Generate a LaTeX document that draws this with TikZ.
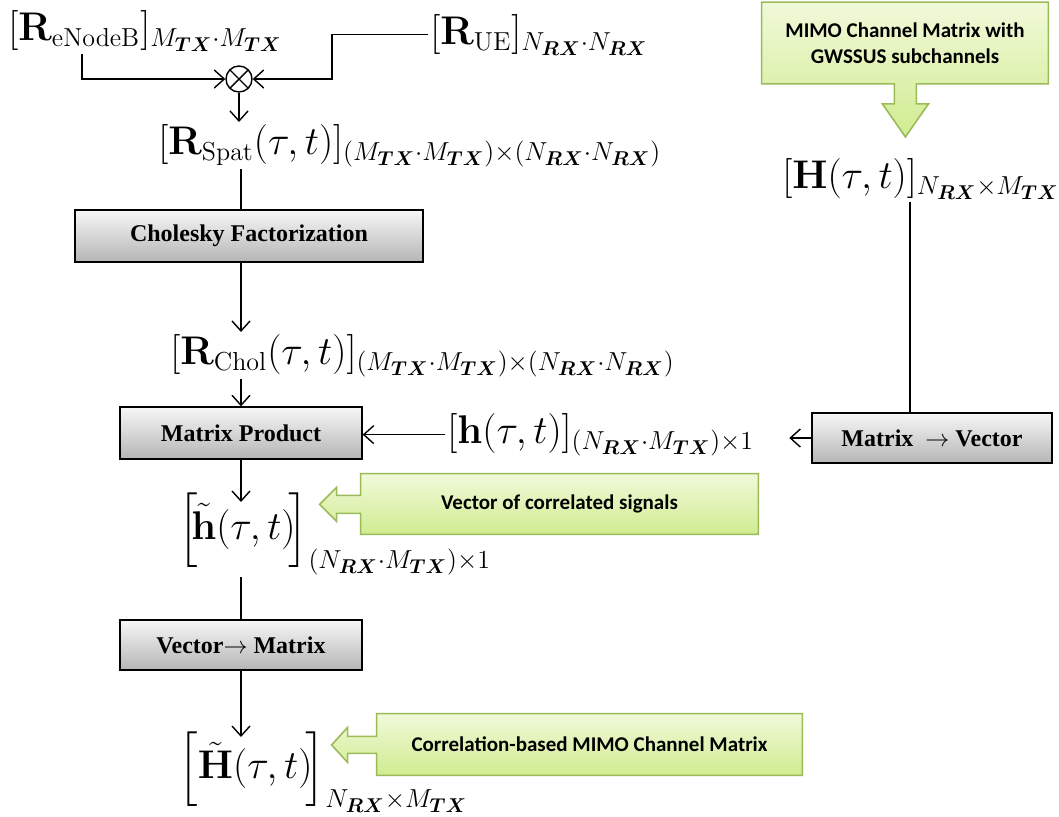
\RequirePackage{fix-cm}
\documentclass[tikz,border=0pt]{standalone}
\usepackage{amsmath}
\usepackage[no-math]{fontspec}
\newfontfamily\boxfont{Liberation Serif}
\newfontfamily\notefont{Carlito}
\usepackage{tikz}
\usetikzlibrary{arrows.meta,backgrounds}
\DeclareMathSizes{20}{20}{13}{10}
\newcommand{\Mtx}{M_{\boldsymbol{TX}}}
\newcommand{\Nrx}{N_{\boldsymbol{RX}}}
\definecolor{boxtop}{HTML}{F7F7F7}
\definecolor{boxbottom}{HTML}{B5B5B5}
\definecolor{notetop}{HTML}{F1F9DA}
\definecolor{notebottom}{HTML}{D0EC90}
\definecolor{noteline}{HTML}{9BBB59}
\tikzstyle{block} = [draw, rectangle, line width=0.7pt, top color=boxtop, bottom color=boxbottom, text centered, font=\boxfont\bfseries\fontsize{12}{14}\selectfont]
\tikzstyle{signal} = [inner sep=1pt, anchor=north west, font=\fontsize{20}{24}\selectfont]
\tikzstyle{note} = [rectangle, inner sep=0pt, align=center, font=\notefont\bfseries\fontsize{10.5}{13}\selectfont]
\tikzstyle{noteshape} = [draw=noteline, line width=0.8pt, top color=notetop, bottom color=notebottom]
\tikzstyle{flow} = [line width=0.7pt]
\tikzstyle{arr} = [flow, -{Straight Barb[length=5pt,width=9pt]}]
\tikzstyle{mult} = [draw, circle, line width=0.7pt, minimum size=13pt, inner sep=0pt,
  path picture={\draw[line width=0.7pt] (path picture bounding box.north west) -- (path picture bounding box.south east)
    (path picture bounding box.north east) -- (path picture bounding box.south west);}]

\begin{document}
\begin{tikzpicture}[x=0.5pt,y=0.5pt]
    \useasboundingbox (0,0) rectangle (1059,-816);
    \coordinate (col) at (241,0);
    \coordinate (enbfoot) at (82,0);
    \coordinate (uebend) at (332,0);
    \coordinate (hfoot) at (910,0);
    % correlation inputs
    \draw (6,-8)     node[signal] (enb) {$[\mathbf{R}_{\mathrm{eNodeB}}]_{\Mtx\cdot\Mtx}$};
    \draw (428,-12)  node[signal] (ue) {$[\mathbf{R}_{\mathrm{UE}}]_{\Nrx\cdot\Nrx}$};
    \draw (239,-79)  node[mult] (mix) {};
    \draw (156,-122) node[signal] (spat) {$[\mathbf{R}_{\mathrm{Spat}}(\tau,t)]_{(\Mtx\cdot\Mtx)\times(\Nrx\cdot\Nrx)}$};
    \draw (249,-236) node[block, minimum width=174pt, minimum height=26pt] (chol) {Cholesky Factorization};
    \draw (168,-332) node[signal] (rchol) {$[\mathbf{R}_{\mathrm{Chol}}(\tau,t)]_{(\Mtx\cdot\Mtx)\times(\Nrx\cdot\Nrx)}$};
    \draw (241,-433) node[block, minimum width=121pt, minimum height=26pt] (prod) {Matrix Product};
    \draw (176,-490) node[signal] (htil) {$\Bigl[\!\tilde{\mathbf{h}}(\tau,t)\!\Bigr]_{(\Nrx\cdot\Mtx)\times1}$};
    \draw (241,-645) node[block, minimum width=121pt, minimum height=25pt] (vm) {Vector$\rightarrow$ Matrix};
    \draw (176,-729) node[signal] (Htil) {$\Bigl[\tilde{\mathbf{H}}(\tau,t)\!\Bigr]_{\Nrx\times\Mtx}$};
    % uncorrelated channel branch
    \draw (780,-156) node[signal] (hmat) {$[\mathbf{H}(\tau,t)]_{\Nrx\times\Mtx}$};
    \draw (932,-438) node[block, minimum width=120pt, minimum height=25pt] (mv) {Matrix \ $\rightarrow$ Vector};
    \draw (445,-411) node[signal] (hvec) {$[\mathbf{h}(\tau,t)]_{(\Nrx\cdot\Mtx)\times1}$};
    % notes
    \draw (905,-43)  node[note, minimum width=143pt, minimum height=40.5pt] (gws) {MIMO Channel Matrix with\\GWSSUS subchannels};
    \draw (559.5,-504) node[note, minimum width=198.5pt, minimum height=30pt] (corr) {Vector of correlated signals};
    \draw (589.5,-744.5) node[note, minimum width=212.5pt, minimum height=30.5pt] (cmat) {Correlation-based MIMO Channel Matrix};
    \begin{scope}[on background layer]
        \draw[noteshape] (gws.south west) -- (gws.north west) -- (gws.north east) -- (gws.south east)
            -- ++(-132,0) -- ++(0,-20) -- ++(12,0) -- ++(-23,-33) -- ++(-23,33) -- ++(12,0) -- ++(0,20) -- cycle;
        \draw[noteshape] (corr.north west) -- (corr.north east) -- (corr.south east) -- (corr.south west)
            -- ++(0,21) -- ++(-24,0) -- ++(0,-8) -- ++(-17,17) -- ++(17,17) -- ++(0,-8) -- ++(24,0) -- cycle;
        \draw[noteshape] (cmat.north west) -- (cmat.north east) -- (cmat.south east) -- (cmat.south west)
            -- ++(0,22) -- ++(-29,0) -- ++(0,-9) -- ++(-16,17.5) -- ++(16,17.5) -- ++(0,-9) -- ++(29,0) -- cycle;
    \end{scope}
    % connectors
    \draw[arr] (enbfoot |- enb.south) |- (mix.west);
    \draw[arr] (ue.west) -- (ue.west -| uebend) |- (mix.east);
    \draw[arr] (mix.south) -- (mix.south |- spat.north);
    \draw[flow] (col |- spat.south) -- (col |- chol.north);
    \draw[arr] (col |- chol.south) -- (col |- rchol.north);
    \draw[arr] (col |- rchol.south) -- (col |- prod.north);
    \draw[arr] (hvec.west) -- (hvec.west -| prod.east);
    \draw[arr, shorten >=-6pt] (col |- prod.south) -- (col |- htil.north);
    \draw[flow] (col |- htil.south) -- (col |- vm.north);
    \draw[arr, shorten >=-4pt] (col |- vm.south) -- (col |- Htil.north);
    \draw[flow] (hfoot |- hmat.south) -- (hfoot |- mv.north);
    \draw[arr] (mv.west) -- ++(-22,0);
\end{tikzpicture}
\end{document}
